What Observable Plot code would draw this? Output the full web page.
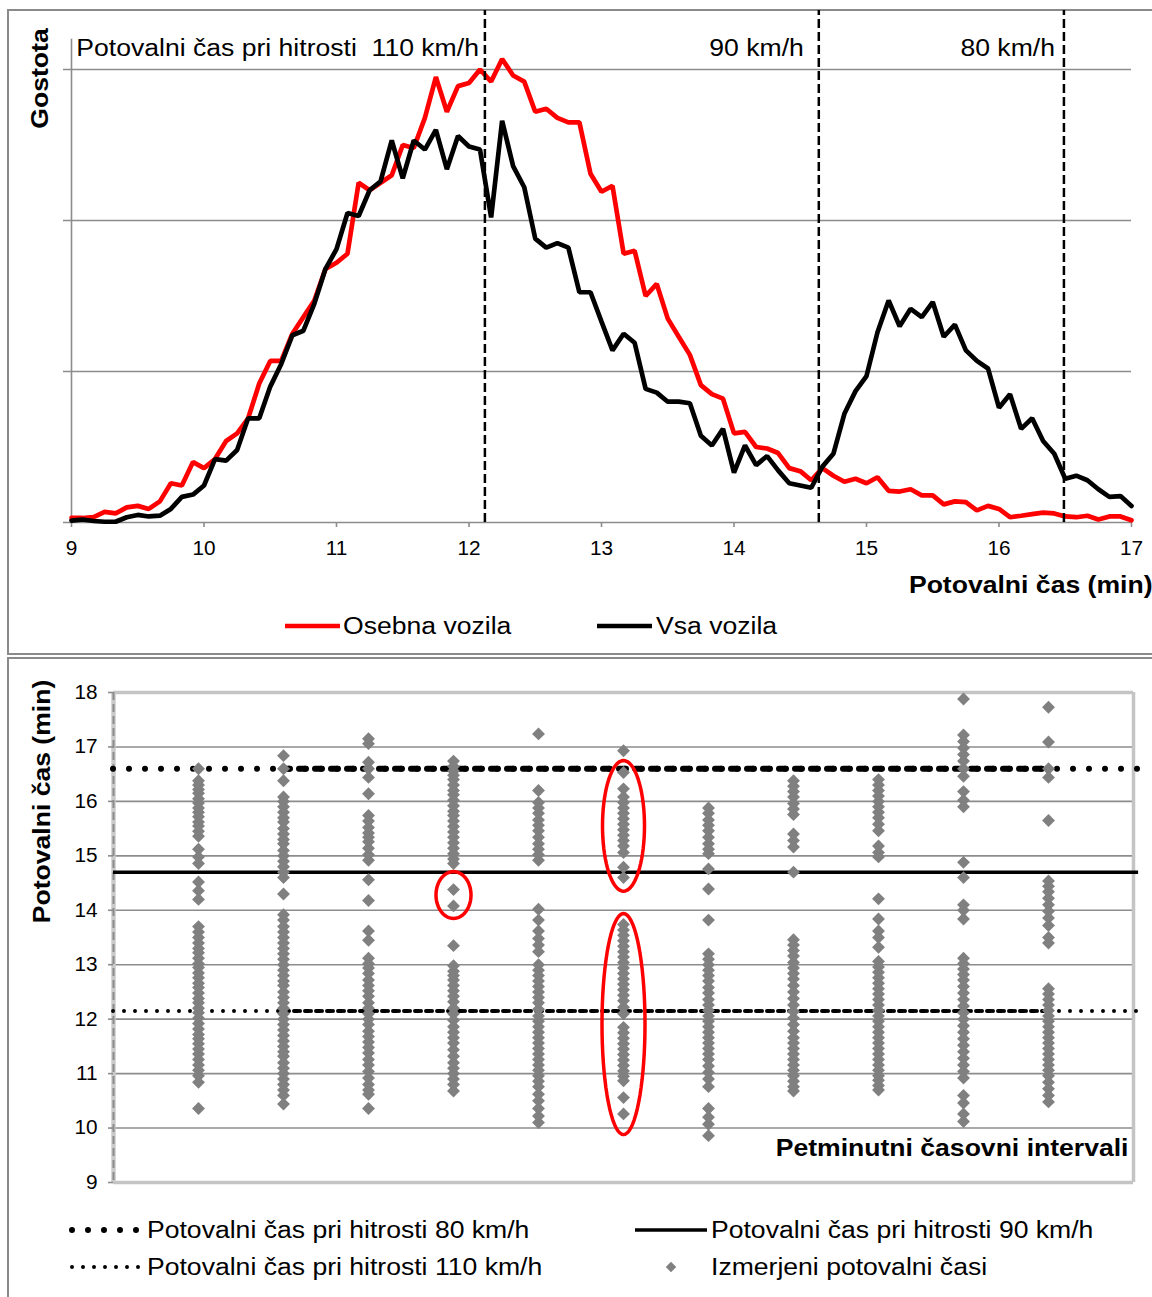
<!DOCTYPE html>
<html><head><meta charset="utf-8">
<script src="https://cdn.jsdelivr.net/npm/d3@7"></script>
<script src="https://cdn.jsdelivr.net/npm/@observablehq/plot@0.6"></script>
<style>
html,body{margin:0;padding:0;background:#fff;overflow:hidden;width:1152px;height:1297px;}
body{position:relative;font-family:"Liberation Sans",Arial,sans-serif;}
.panel{position:absolute;border:2px solid #8a8a8a;box-sizing:border-box;}
#p1{left:7px;top:9px;width:1170px;height:646px;}
#p2{left:7px;top:657px;width:1170px;height:700px;}
.holder{position:absolute;left:0;width:1152px;}
.holder svg{display:block;}
</style></head><body>
<div class="panel" id="p1"></div>
<div class="panel" id="p2"></div>
<div class="holder" id="top" style="top:0"></div>
<div class="holder" id="bottom" style="top:658px"></div>
<div class="holder" id="legends" style="top:0"></div>
<script>
const FONT = '"Liberation Sans", Arial, sans-serif';

// ---------- top chart data: density of travel times (5-second bins) ----------
const travelTimes = [
  9, 9.083, 9.167, 9.25, 9.333, 9.417, 9.5, 9.583, 9.667, 9.75, 9.833, 9.917,
  10, 10.083, 10.167, 10.25, 10.333, 10.417, 10.5, 10.583, 10.667, 10.75, 10.833, 10.917,
  11, 11.083, 11.167, 11.25, 11.333, 11.417, 11.5, 11.583, 11.667, 11.75, 11.833, 11.917,
  12, 12.083, 12.167, 12.25, 12.333, 12.417, 12.5, 12.583, 12.667, 12.75, 12.833, 12.917,
  13, 13.083, 13.167, 13.25, 13.333, 13.417, 13.5, 13.583, 13.667, 13.75, 13.833, 13.917,
  14, 14.083, 14.167, 14.25, 14.333, 14.417, 14.5, 14.583, 14.667, 14.75, 14.833, 14.917,
  15, 15.083, 15.167, 15.25, 15.333, 15.417, 15.5, 15.583, 15.667, 15.75, 15.833, 15.917,
  16, 16.083, 16.167, 16.25, 16.333, 16.417, 16.5, 16.583, 16.667, 16.75, 16.833, 16.917,
  17
];
const osebnaVozila = [
  0.03, 0.03, 0.035, 0.07, 0.06, 0.10, 0.11, 0.09, 0.14, 0.26, 0.245, 0.40,
  0.36, 0.42, 0.54, 0.59, 0.69, 0.92, 1.07, 1.07, 1.25, 1.36, 1.47, 1.68,
  1.72, 1.78, 2.25, 2.20, 2.25, 2.30, 2.50, 2.48, 2.68, 2.95, 2.72, 2.89,
  2.91, 3.00, 2.92, 3.07, 2.96, 2.92, 2.72, 2.74, 2.68, 2.65, 2.65, 2.31,
  2.19, 2.23, 1.78, 1.80, 1.50, 1.58, 1.35, 1.23, 1.11, 0.91, 0.85, 0.82,
  0.59, 0.60, 0.50, 0.49, 0.46, 0.36, 0.34, 0.28, 0.36, 0.31, 0.27, 0.29,
  0.26, 0.30, 0.21, 0.205, 0.22, 0.18, 0.18, 0.12, 0.14, 0.135, 0.08, 0.11,
  0.09, 0.035, 0.045, 0.055, 0.065, 0.06, 0.04, 0.035, 0.045, 0.02, 0.04, 0.04,
  0.015
];
const vsaVozila = [
  0.013, 0.02, 0.01, 0.005, 0.005, 0.035, 0.05, 0.04, 0.045, 0.09, 0.17, 0.185,
  0.245, 0.42, 0.41, 0.48, 0.69, 0.69, 0.90, 1.05, 1.24, 1.27, 1.45, 1.68,
  1.81, 2.05, 2.03, 2.20, 2.26, 2.53, 2.28, 2.53, 2.47, 2.60, 2.34, 2.56,
  2.49, 2.47, 2.02, 2.66, 2.36, 2.22, 1.88, 1.82, 1.85, 1.82, 1.525, 1.525,
  1.33, 1.14, 1.25, 1.19, 0.885, 0.86, 0.80, 0.80, 0.79, 0.575, 0.51, 0.62,
  0.33, 0.51, 0.38, 0.44, 0.345, 0.26, 0.245, 0.23, 0.37, 0.455, 0.72, 0.87,
  0.97, 1.26, 1.47, 1.30, 1.415, 1.36, 1.46, 1.23, 1.31, 1.14, 1.07, 1.02,
  0.76, 0.85, 0.62, 0.69, 0.54, 0.455, 0.29, 0.31, 0.28, 0.22, 0.17, 0.175,
  0.11
];
const xTicksTop = [9, 10, 11, 12, 13, 14, 15, 16, 17];
const speedLimitTimesTop = [12.12, 14.64, 16.49];
const speedLabelsTop = ["Potovalni čas pri hitrosti\u00a0 110 km/h", "90 km/h", "80 km/h"];
const seriesNames = ["Osebna vozila", "Vsa vozila"];

// ---------- bottom chart data: measured travel times per 5-minute interval ----------
const intervals = [1, 2, 3, 4, 5, 6, 7, 8, 9, 10, 11];
const measured = [
  [16.6, 16.38, 16.3, 16.22, 16.15, 16.05, 15.97, 15.88, 15.8, 15.72, 15.62, 15.55, 15.45, 15.36, 15.12, 14.98, 14.86, 14.52, 14.36, 14.2,
   13.7, 13.6, 13.5, 13.4, 13.3, 13.22, 13.12, 13.02, 12.95, 12.85, 12.76, 12.66, 12.58, 12.48, 12.38, 12.3, 12.2, 12.12, 12.02, 11.92,
   11.82, 11.72, 11.64, 11.55, 11.45, 11.36, 11.26, 11.16, 11.06, 10.96, 10.84, 10.36],
  [16.84, 16.6, 16.38, 16.08, 16.0, 15.9, 15.8, 15.7, 15.62, 15.5, 15.4, 15.3, 15.22, 15.1, 15.0, 14.9, 14.8, 14.7, 14.6, 14.3,
   13.92, 13.82, 13.7, 13.6, 13.5, 13.4, 13.3, 13.2, 13.1, 13.0, 12.9, 12.8, 12.7, 12.62, 12.5, 12.4, 12.3, 12.2, 12.1, 12.0,
   11.9, 11.8, 11.7, 11.6, 11.5, 11.4, 11.32, 11.2, 11.1, 11.0, 10.9, 10.8, 10.7, 10.6, 10.44],
  [17.15, 17.06, 16.72, 16.6, 16.44, 16.14, 15.74, 15.64, 15.52, 15.42, 15.34, 15.26, 15.14, 15.02, 14.92, 14.56, 14.18, 13.62, 13.45,
   13.12, 13.02, 12.94, 12.84, 12.72, 12.62, 12.52, 12.42, 12.3, 12.2, 12.1, 12.0, 11.9, 11.78, 11.68, 11.58, 11.48, 11.38, 11.26,
   11.16, 11.04, 10.92, 10.8, 10.7, 10.62, 10.36],
  [16.74, 16.64, 16.56, 16.48, 16.4, 16.3, 16.2, 16.12, 16.02, 15.92, 15.82, 15.74, 15.64, 15.54, 15.44, 15.34, 15.24, 15.14, 15.04, 14.94,
   14.86, 14.38, 14.08, 13.35, 12.98, 12.88, 12.8, 12.72, 12.62, 12.52, 12.42, 12.32, 12.2, 12.1, 11.98, 11.86, 11.76, 11.66, 11.56,
   11.44, 11.32, 11.2, 11.1, 11.0, 10.9, 10.8, 10.68],
  [17.24, 16.2, 15.98, 15.88, 15.78, 15.66, 15.56, 15.46, 15.34, 15.22, 15.12, 15.02, 14.92, 14.02, 13.82, 13.62, 13.48, 13.36, 13.24,
   13.0, 12.9, 12.8, 12.7, 12.6, 12.5, 12.4, 12.3, 12.18, 12.06, 11.96, 11.86, 11.76, 11.66, 11.56, 11.46, 11.36, 11.26, 11.16, 11.06,
   10.96, 10.86, 10.76, 10.62, 10.5, 10.36, 10.22, 10.1],
  [16.93, 16.53, 16.23, 16.08, 15.98, 15.88, 15.78, 15.68, 15.58, 15.48, 15.38, 15.28, 15.18, 15.06, 14.79, 14.6,
   13.74, 13.64, 13.54, 13.44, 13.34, 13.24, 13.14, 13.04, 12.94, 12.84, 12.74, 12.64, 12.54, 12.44, 12.34, 12.22, 12.1,
   11.85, 11.75, 11.65, 11.55, 11.45, 11.35, 11.25, 11.15, 11.05, 10.95, 10.87, 10.56, 10.26],
  [15.88, 15.78, 15.66, 15.56, 15.46, 15.34, 15.22, 15.12, 15.04, 14.76, 14.39, 13.82, 13.2, 13.1, 13.0, 12.9, 12.8, 12.7, 12.58,
   12.48, 12.36, 12.26, 12.16, 12.06, 11.96, 11.86, 11.76, 11.66, 11.56, 11.46, 11.36, 11.26, 11.14, 11.02, 10.9, 10.76, 10.36,
   10.2, 10.07, 9.86],
  [16.38, 16.28, 16.18, 16.08, 15.96, 15.86, 15.76, 15.4, 15.28, 15.16, 14.7, 13.46, 13.36, 13.26, 13.16, 13.04, 12.94, 12.84,
   12.74, 12.62, 12.5, 12.38, 12.26, 12.14, 12.02, 11.9, 11.78, 11.66, 11.56, 11.46, 11.36, 11.26, 11.16, 11.06, 10.96, 10.86,
   10.76, 10.68],
  [16.4, 16.3, 16.2, 16.1, 16.0, 15.9, 15.8, 15.7, 15.58, 15.46, 15.18, 15.06, 14.98, 14.21, 13.84, 13.62, 13.5, 13.32, 13.06,
   12.96, 12.86, 12.76, 12.66, 12.56, 12.46, 12.36, 12.26, 12.16, 12.06, 11.96, 11.86, 11.76, 11.66, 11.56, 11.46, 11.36, 11.26,
   11.16, 11.06, 10.96, 10.88, 10.78, 10.7],
  [17.88, 17.22, 17.1, 16.98, 16.86, 16.74, 16.6, 16.46, 16.18, 16.02, 15.9, 14.88, 14.6, 14.1, 14.0, 13.84, 13.12, 13.02,
   12.92, 12.82, 12.72, 12.6, 12.48, 12.36, 12.24, 12.12, 12.0, 11.88, 11.76, 11.64, 11.52, 11.4, 11.28, 11.16, 11.04, 10.92,
   10.6, 10.46, 10.26, 10.12],
  [17.73, 17.09, 16.6, 16.44, 15.65, 14.54, 14.44, 14.34, 14.22, 14.1, 13.98, 13.86, 13.72, 13.5, 13.4, 12.56, 12.46, 12.36,
   12.26, 12.16, 12.06, 11.96, 11.86, 11.76, 11.66, 11.56, 11.46, 11.36, 11.26, 11.16, 11.06, 10.96, 10.84, 10.72, 10.6, 10.48]
];
const yTicksBottom = [9, 10, 11, 12, 13, 14, 15, 16, 17, 18];
const speedTimesBottom = [16.6, 14.7, 12.15]; // 80, 90, 110 km/h
const legendLabelsBottom = [
  "Potovalni čas pri hitrosti 80 km/h",
  "Potovalni čas pri hitrosti 90 km/h",
  "Potovalni čas pri hitrosti 110 km/h",
  "Izmerjeni potovalni časi"
];
// highlighted groups (interval, centre, half-width, half-height)
const highlightInterval = [4, 6, 6];
const highlightCentre = [14.28, 15.55, 11.91];
const highlightHalfWidth = [0.206, 0.247, 0.253];
const highlightHalfHeight = [0.43, 1.2, 2.03];

// the reference typesetting is horizontally wider than Arial metrics
function widenText(root, bigFactor, smallFactor) {
  root.querySelectorAll("text").forEach(t => {
    const fs = parseFloat(getComputedStyle(t).fontSize);
    const f = fs >= 21 ? bigFactor : smallFactor;
    const L = t.getComputedTextLength();
    if (L > 0 && f !== 1) {
      t.setAttribute("textLength", (L * f).toFixed(1));
      t.setAttribute("lengthAdjust", "spacingAndGlyphs");
    }
  });
}

// ---------- top chart ----------
const densityRows = travelTimes.map((t, i) => ({t, osebna: osebnaVozila[i], vsa: vsaVozila[i]}));
const yTopMax = 512 / 151;
const topChart = Plot.plot({
  width: 1152, height: 653,
  marginLeft: 71, marginRight: 21, marginTop: 10, marginBottom: 131,
  x: {domain: [9, 17], axis: null},
  y: {domain: [0, yTopMax], axis: null},
  style: {fontFamily: FONT, fontSize: "20px", background: "transparent", overflow: "visible", color: "#000"},
  marks: [
    Plot.ruleY([1, 2, 3], {stroke: "#8c8c8c", strokeWidth: 1.6, insetLeft: -8}),
    Plot.ruleY([0], {stroke: "#8c8c8c", strokeWidth: 1.6, insetLeft: -8}),
    Plot.ruleX([9], {y1: 0, y2: 3.2, stroke: "#8c8c8c", strokeWidth: 1.6}),
    Plot.axisX({ticks: xTicksTop, tickSize: 5, tickPadding: 13.5, stroke: "#8c8c8c", strokeWidth: 1.6, fill: "#000", tickFormat: d => String(d), label: null, fontSize: 20}),
    Plot.line(densityRows, {x: "t", y: "osebna", stroke: "#ff0000", strokeWidth: 4.7, strokeLinejoin: "miter"}),
    Plot.line(densityRows, {x: "t", y: "vsa", stroke: "#000", strokeWidth: 4.7, strokeLinejoin: "miter"}),
    Plot.ruleX(speedLimitTimesTop, {y1: 0, y2: yTopMax, stroke: "#000", strokeWidth: 2.5, strokeDasharray: "9,4"}),
    Plot.text([speedLabelsTop[0]], {x: speedLimitTimesTop[0], y: 3.135, text: d => d, textAnchor: "end", dx: -6, fontSize: 23}),
    Plot.text([speedLabelsTop[1]], {x: speedLimitTimesTop[1], y: 3.135, text: d => d, textAnchor: "end", dx: -15, fontSize: 23}),
    Plot.text([speedLabelsTop[2]], {x: speedLimitTimesTop[2], y: 3.135, text: d => d, textAnchor: "end", dx: -9, fontSize: 23}),
    Plot.text(["Potovalni čas (min)"], {frameAnchor: "bottom-right", text: d => d, textAnchor: "end", lineAnchor: "middle", dx: 21, dy: 63, fontWeight: "bold", fontSize: 23}),
    Plot.text(["Gostota"], {frameAnchor: "top-left", text: d => d, textAnchor: "middle", lineAnchor: "middle", rotate: -90, dx: -31, dy: 68, fontWeight: "bold", fontSize: 23})
  ]
});
document.getElementById("top").appendChild(topChart);
widenText(topChart, 1.155, 1.04);

// ---------- bottom chart ----------
const points = [];
measured.forEach((vals, i) => vals.forEach(v => points.push({interval: intervals[i], time: v})));
const ellipsePts = [];
highlightInterval.forEach((c, k) => {
  for (let a = 0; a <= 72; a++) {
    const th = a / 72 * 2 * Math.PI;
    ellipsePts.push({id: k, x: c + highlightHalfWidth[k] * Math.cos(th), y: highlightCentre[k] + highlightHalfHeight[k] * Math.sin(th)});
  }
});
const gridBottom = yTicksBottom.filter(d => d > 9 && d < 18);
const bottomChart = Plot.plot({
  width: 1152, height: 639,
  marginLeft: 113, marginRight: 19, marginTop: 34, marginBottom: 115,
  x: {domain: [0, 12], axis: null},
  y: {domain: [9, 18], axis: null},
  style: {fontFamily: FONT, fontSize: "20px", background: "transparent", overflow: "visible", color: "#000"},
  marks: [
    Plot.ruleY(gridBottom, {stroke: "#8c8c8c", strokeWidth: 1.6}),
    Plot.ruleY([18, 9], {stroke: "#c4c4c4", strokeWidth: 3.5}),
    Plot.ruleX([12], {stroke: "#c4c4c4", strokeWidth: 3.5}),
    Plot.ruleX([0], {stroke: "#cacaca", strokeWidth: 4.5}),
    Plot.ruleX([0], {stroke: "#8c8c8c", strokeWidth: 2, strokeDasharray: "8,4"}),
    Plot.axisY({ticks: yTicksBottom, tickSize: 5, tickPadding: 11, stroke: "#8c8c8c", strokeWidth: 1.6, fill: "#000", tickFormat: d => String(d), label: null, fontSize: 20}),
    // 80 km/h
    Plot.ruleY([speedTimesBottom[0]], {x1: 0, x2: 12.06, stroke: "#000", strokeWidth: 6, strokeDasharray: "0,16", strokeLinecap: "round"}),
    Plot.ruleY([speedTimesBottom[0]], {x1: 2, x2: 11, stroke: "#000", strokeWidth: 6, strokeDasharray: "7,9", strokeLinecap: "round"}),
    // 90 km/h
    Plot.ruleY([speedTimesBottom[1]], {x1: 0, x2: 12.06, stroke: "#000", strokeWidth: 3.5}),
    // 110 km/h
    Plot.ruleY([speedTimesBottom[2]], {x1: 0, x2: 12.06, stroke: "#000", strokeWidth: 4, strokeDasharray: "0,11", strokeLinecap: "round"}),
    Plot.ruleY([speedTimesBottom[2]], {x1: 2, x2: 11, stroke: "#000", strokeWidth: 4, strokeDasharray: "4,7", strokeLinecap: "round"}),
    Plot.dot(points, {x: "interval", y: "time", symbol: "diamond2", r: 5.8, fill: "#808080", stroke: "none"}),
    Plot.line(ellipsePts, {x: "x", y: "y", z: "id", stroke: "#ff0000", strokeWidth: 3.5, fill: "none"}),
    Plot.text(["Petminutni časovni intervali"], {frameAnchor: "bottom-right", text: d => d, textAnchor: "end", lineAnchor: "middle", dx: -5, dy: -34, fontWeight: "bold", fontSize: 23}),
    Plot.text(["Potovalni čas (min)"], {frameAnchor: "top-left", text: d => d, textAnchor: "middle", lineAnchor: "middle", rotate: -90, dx: -71, dy: 109, fontWeight: "bold", fontSize: 23})
  ]
});
document.getElementById("bottom").appendChild(bottomChart);
widenText(bottomChart, 1.155, 1.04);

// ---------- legends ----------
const legSvg = d3.select("#legends").append("svg").attr("width", 1152).attr("height", 1297)
  .style("font-family", FONT).style("font-size", "23px").style("pointer-events", "none");
function legText(x, cy, s) {
  legSvg.append("text").attr("x", x).attr("y", cy + 8.2).attr("fill", "#000").text(s);
}
// top legend
legSvg.append("line").attr("x1", 285).attr("x2", 340).attr("y1", 626).attr("y2", 626).attr("stroke", "#ff0000").attr("stroke-width", 4.7);
legText(343, 626, seriesNames[0]);
legSvg.append("line").attr("x1", 597).attr("x2", 652).attr("y1", 626).attr("y2", 626).attr("stroke", "#000").attr("stroke-width", 4.7);
legText(656, 626, seriesNames[1]);
// bottom legend
legSvg.append("line").attr("x1", 72).attr("x2", 137).attr("y1", 1230).attr("y2", 1230).attr("stroke", "#000")
  .attr("stroke-width", 6).attr("stroke-dasharray", "0,16").attr("stroke-linecap", "round");
legText(147, 1230, legendLabelsBottom[0]);
legSvg.append("line").attr("x1", 635).attr("x2", 707).attr("y1", 1230).attr("y2", 1230).attr("stroke", "#000").attr("stroke-width", 3.5);
legText(711, 1230, legendLabelsBottom[1]);
legSvg.append("line").attr("x1", 72).attr("x2", 139).attr("y1", 1267).attr("y2", 1267).attr("stroke", "#000")
  .attr("stroke-width", 4).attr("stroke-dasharray", "0,11").attr("stroke-linecap", "round");
legText(147, 1267, legendLabelsBottom[2]);
legSvg.append("path").attr("d", d3.symbol(d3.symbolDiamond2, 70)()).attr("transform", "translate(671,1267)").attr("fill", "#808080");
legText(711, 1267, legendLabelsBottom[3]);
widenText(legSvg.node(), 1.155, 1.04);
</script>
</body></html>
